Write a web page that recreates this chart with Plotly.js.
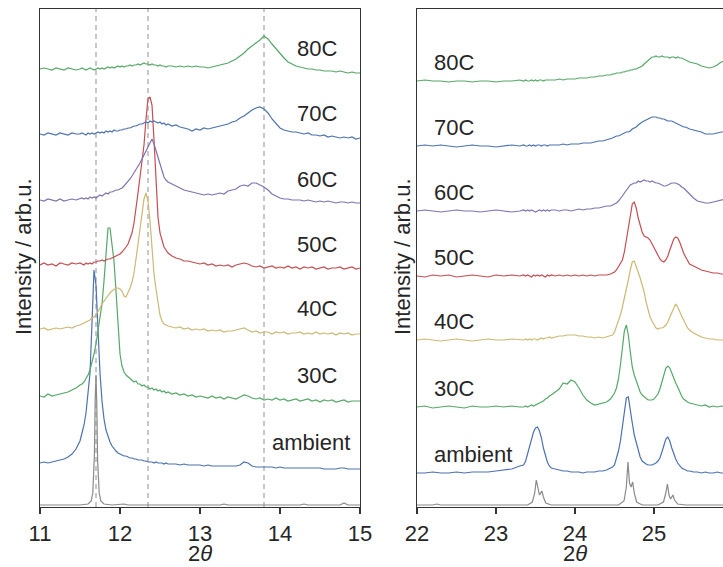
<!DOCTYPE html>
<html>
<head>
<meta charset="utf-8">
<script src="https://cdn.plot.ly/plotly-3.0.1.min.js"></script>
<style>
  html, body { margin: 0; padding: 0; overflow: hidden; background: #fff; }
  #chart { width: 780px; height: 567px; }
</style>
</head>
<body>
<div id="chart"></div>
<script>
// ---------------- DATA ----------------
const sampleNames = ['ambient', '30C', '40C', '50C', '60C', '70C', '80C'];
const seriesColors = ['#4C72B0', '#55A868', '#CCB974', '#C44E52', '#8172B2', '#4C72B0', '#55A868'];
const refColor = '#8a8a8a';

// vertical stacking offsets (arb.u.)
const offsetsLeft = [44, 111, 178, 242, 307, 373, 438];
const offsetsRight = [34, 100, 167, 231, 296, 361, 426];
const refOffset = 2;

// dashed reference positions (left panel)
const dashPositions = [11.70, 12.35, 13.80];

// left panel: 2theta grid
const xLeft = [
  11.00,11.05,11.10,11.15,11.20,11.25,11.30,11.35,11.40,11.45,
  11.500,11.525,11.550,11.575,11.600,11.625,11.650,11.675,11.700,11.725,
  11.750,11.775,11.800,11.825,11.850,11.875,11.900,11.925,11.950,11.975,
  12.000,12.025,12.050,12.075,12.100,12.125,12.150,12.175,12.200,12.225,
  12.250,12.275,12.300,12.325,12.350,12.375,12.400,12.425,12.450,12.475,
  12.500,12.525,12.550,12.575,12.600,
  12.65,12.70,12.75,12.80,12.85,12.90,12.95,13.00,13.05,13.10,
  13.15,13.20,13.25,13.30,13.35,13.40,13.45,13.50,13.55,13.60,
  13.65,13.70,13.75,13.80,13.85,13.90,13.95,14.00,14.05,14.10,
  14.15,14.20,14.25,14.30,14.35,14.40,14.45,14.50,14.55,14.60,
  14.65,14.70,14.75,14.80,14.85,14.90,14.95,15.00
];
const ambientLeft = [
  0,1,0,1,2,3,4,6,9,14,
  22,30,38,50,68,90,140,193,178,130,
  90,62,44,33,26,21,17,14,12,10,
  9,8,7,7,6,5,5,4,4,3,
  3,3,2,2,1,1,1,0,1,0,
  0,0,-1,0,-1,
  -1,-1,-2,-1,-2,-2,-2,-2,-3,-2,
  -3,-3,-3,-3,-3,-3,-3,-2,1,0,
  -3,-4,-4,-4,-4,-4,-5,-4,-5,-5,
  -5,-5,-5,-5,-5,-5,-5,-5,-6,-6,
  -6,-6,-5,-5,-6,-6,-6,-6
];
const c30Left = [
  0,-1,2,0,1,2,3,4,6,8,
  11,12,14,17,21,26,33,42,52,66,
  78,92,115,142,168,168,152,135,105,70,
  42,30,24,21,19,18,16,14,15,12,
  12,10,11,9,9,7,8,6,7,5,
  6,4,5,3,4,
  2,3,1,2,0,1,-1,0,-1,-2,
  0,-2,-1,-3,-1,-2,-3,-1,1,0,
  -2,-3,-2,-4,-3,-4,-2,-4,-3,-5,
  -4,-3,-5,-4,-3,-5,-4,-6,-4,-5,
  -4,-6,-5,-4,-6,-5,-5,-5
];
const c40Left = [
  0,1,-1,0,1,0,1,2,1,3,
  4,5,6,7,8,9,11,12,14,17,
  21,25,28,31,33,36,38,40,41,41,
  40,38,33,32,36,41,47,56,70,86,
  102,118,130,136,128,108,80,55,40,25,
  14,8,5,4,3,
  2,1,2,0,1,-1,0,-1,0,-2,
  -1,-2,-1,-3,-2,-2,-1,0,1,-1,
  -3,-2,-4,-3,-3,-5,-3,-4,-3,-5,
  -4,-4,-3,-5,-4,-5,-3,-5,-4,-5,
  -4,-6,-4,-5,-4,-6,-5,-5
];
const c50Left = [
  0,2,0,1,-1,2,1,0,2,1,
  2,1,0,2,1,2,1,3,3,4,
  4,5,4,5,6,6,7,8,9,10,
  11,13,15,18,21,26,32,42,55,72,
  88,104,120,146,166,168,160,125,78,48,
  32,24,18,15,12,
  9,7,6,4,4,3,2,1,2,0,
  1,-1,0,-1,0,-2,0,1,2,1,
  -1,-2,-1,-3,-2,-1,-3,-2,-3,-1,
  -3,-2,-4,-2,-3,-2,-4,-3,-2,-4,
  -3,-3,-2,-4,-3,-2,-4,-3
];
const c60Left = [
  0,-1,1,0,-1,1,-1,0,1,0,
  1,2,1,2,1,3,2,3,2,4,
  5,4,6,7,6,8,8,9,10,10,
  11,12,14,16,18,21,24,27,30,34,
  37,41,45,49,53,57,61,56,49,42,
  35,29,23,20,18,
  16,14,12,10,9,8,7,6,5,6,
  5,6,7,6,9,10,11,14,15,14,
  17,17,15,13,10,6,4,2,1,1,
  0,0,0,-1,0,-1,-2,-1,-2,-1,
  -2,-3,-2,-2,-3,-2,-3,-3
];
const c70Left = [
  0,-1,1,0,-1,1,0,-1,1,0,
  0,1,0,-1,1,0,1,0,1,2,
  1,2,1,3,2,3,2,4,3,3,
  4,4,5,5,6,6,7,8,8,9,
  10,10,11,12,11,13,12,13,12,11,
  12,10,11,9,10,
  8,9,7,6,5,3,5,4,6,5,
  6,7,8,9,10,12,13,16,18,21,
  24,26,27,25,21,15,10,6,4,3,
  2,2,1,0,1,-1,-1,-2,-1,-3,
  -2,-3,-4,-3,-4,-3,-5,-4
];
const c80Left = [
  0,1,0,-1,1,0,-1,1,0,-1,
  0,1,0,-1,0,1,0,-1,0,1,
  0,1,0,1,2,1,2,1,2,3,
  2,3,2,3,3,4,3,4,4,5,
  4,5,6,5,5,4,5,4,4,3,
  4,3,3,2,3,
  3,2,3,2,3,2,3,2,2,1,
  2,3,4,5,6,8,10,13,16,20,
  23,26,29,33,30,25,20,15,11,7,
  5,3,2,1,0,0,-1,-1,-2,-2,
  -2,-3,-2,-3,-4,-3,-4,-4
];
// simulated reference pattern (grey), left panel
const xRefLeft = [11.00,11.30,11.50,11.60,11.64,11.66,11.68,11.69,11.70,11.71,11.72,11.74,11.76,11.80,11.90,12.05,12.10,12.50,13.00,13.25,13.30,13.35,13.60,14.00,14.25,14.30,14.35,14.75,14.80,14.85,15.00];
const refLeft  = [0,0,0,1,4,12,50,105,130,100,45,12,4,1,0,1,0,0,0,0,1,0,0,0,0,1,0,0,2,0,0];

// right panel: 2theta grid
const xRight = [
  22.0,22.1,22.2,22.3,22.4,22.5,22.6,22.7,22.8,22.9,23.0,23.1,23.2,23.3,
  23.350,23.375,23.400,23.425,23.450,23.475,23.500,23.525,23.550,23.575,23.600,23.625,23.650,23.675,23.700,
  23.75,23.80,23.85,23.90,23.95,24.00,24.05,24.10,24.15,24.20,24.25,24.30,24.35,24.40,24.45,
  24.475,24.500,24.525,24.550,24.575,24.600,24.625,24.650,24.675,24.700,
  24.725,24.750,24.775,24.800,24.825,24.850,24.875,24.900,24.925,24.950,
  24.975,25.000,25.025,25.050,25.075,25.100,25.125,25.150,25.175,25.200,
  25.225,25.250,25.275,25.300,25.325,25.350,25.375,25.400,25.425,25.450,
  25.50,25.55,25.60,25.65,25.70,25.75,25.80,25.85,25.90
];
const ambientRight = [
  0,0,1,0,0,1,0,1,1,1,2,3,4,7,
  8,12,19,27,35,41,45,46,42,35,25,17,11,7,5,
  4,3,2,2,1,1,1,0,1,1,1,2,2,3,5,
  6,8,14,22,32,45,62,75,76,65,
  50,38,30,22,16,12,10,9,8,8,
  8,9,10,12,15,21,28,34,36,32,
  25,19,14,10,7,5,4,3,2,2,
  1,1,0,1,0,0,1,0,0
];
const c30Right = [
  0,1,-1,0,1,0,-1,1,0,0,1,0,1,0,
  0,1,0,1,2,1,2,3,4,5,6,8,9,11,12,
  15,18,24,23,27,25,19,12,7,4,2,3,4,5,8,
  11,14,19,28,42,60,76,82,72,55,
  40,32,26,20,15,12,10,8,7,7,
  7,8,10,13,18,25,33,39,41,39,
  34,28,24,20,15,11,8,6,5,4,
  3,2,1,2,0,1,0,1,0
];
const c40Right = [
  0,1,0,-1,0,1,0,-1,0,1,0,0,1,0,
  0,1,0,1,0,1,1,0,1,2,1,2,2,3,2,
  3,4,4,5,5,5,4,4,3,3,2,3,2,3,4,
  5,8,13,19,25,33,41,50,60,70,
  78,79,74,68,62,55,48,38,29,23,
  19,15,12,11,12,12,13,15,18,23,
  28,33,36,33,28,24,20,16,12,10,
  7,5,3,2,1,1,0,0,0
];
const c50Right = [
  0,-1,1,0,1,-1,0,1,0,-1,1,0,1,0,
  1,0,1,0,-1,1,0,1,0,1,0,-1,1,0,1,
  0,1,0,1,0,1,0,1,0,1,0,1,1,1,2,
  3,4,6,9,12,16,24,36,48,64,
  72,74,68,58,50,44,40,39,38,36,
  32,28,24,20,17,15,14,16,20,26,
  32,37,39,38,34,28,23,19,15,12,
  10,8,6,5,4,3,3,2,2
];
const c60Right = [
  0,1,0,-1,0,1,0,0,-1,0,1,0,-1,0,
  1,0,1,0,1,0,-1,0,1,0,1,0,1,0,1,
  1,0,1,1,0,1,2,1,2,2,3,3,4,5,5,
  6,7,8,10,12,15,18,21,24,26,
  27,28,28,30,29,30,31,30,30,29,
  30,29,28,28,27,26,25,25,26,27,
  28,28,28,27,26,24,23,21,19,16,
  13,10,9,8,8,9,10,11,12
];
const c70Right = [
  0,1,0,1,0,-1,0,1,0,0,-1,0,1,0,
  1,0,0,1,0,1,0,1,1,0,1,1,0,1,1,
  1,1,2,1,2,2,2,3,3,3,4,5,5,6,7,
  8,9,10,10,11,12,13,14,14,15,
  17,18,19,21,23,24,25,26,27,28,
  29,29,29,28,28,27,27,26,25,25,
  25,24,23,22,21,20,19,19,18,17,
  16,15,14,12,12,12,13,14,14
];
const c80Right = [
  0,1,0,0,-1,0,0,-1,0,0,-1,0,0,1,
  0,1,0,0,1,0,1,0,1,1,0,1,1,1,1,
  1,2,1,2,2,2,3,3,3,4,4,5,5,6,6,
  7,7,8,8,8,9,9,10,10,11,
  11,12,12,13,14,15,17,19,21,23,
  24,24,25,24,24,25,24,24,24,23,
  24,24,23,24,23,23,22,21,20,19,
  18,17,15,14,13,14,16,19,20
];
// simulated reference pattern (grey), right panel
const xRefRight = [22.0,22.2,22.25,22.3,23.0,23.40,23.46,23.49,23.51,23.53,23.55,23.58,23.60,23.63,23.70,24.0,24.55,24.62,24.65,24.67,24.69,24.71,24.73,24.75,24.78,24.85,25.05,25.12,25.15,25.17,25.19,25.21,25.24,25.26,25.30,25.40,25.90];
const refRight  = [0,0,1,0,0,0,3,12,25,16,10,14,8,2,0,0,0,4,18,43,22,18,23,12,3,0,0,3,12,21,10,6,10,5,1,0,0];

const xTicksLeft = [11, 12, 13, 14, 15];
const xTicksRight = [22, 23, 24, 25];
const xAxisTitle = '2<i>θ</i>';
const yAxisTitle = 'Intensity / arb.u.';

// ---------------- PLOT ----------------
const W = 780, H = 567;
const FONT = 'Liberation Sans, Arial, Helvetica, sans-serif';
const TXT = '#262626';
const seriesLeft = [ambientLeft, c30Left, c40Left, c50Left, c60Left, c70Left, c80Left];
const seriesRight = [ambientRight, c30Right, c40Right, c50Right, c60Right, c70Right, c80Right];

const traces = [];
function add(x, ys, off, color, xa, ya) {
  traces.push({
    x: x, y: ys.map(v => v + off), type: 'scatter', mode: 'lines',
    line: {color: color, width: 1.2}, xaxis: xa, yaxis: ya,
    hoverinfo: 'skip', showlegend: false
  });
}
add(xRefLeft, refLeft, refOffset, refColor, 'x', 'y');
add(xRefRight, refRight, refOffset, refColor, 'x2', 'y2');
for (let i = 0; i < sampleNames.length; i++) {
  add(xLeft, seriesLeft[i], offsetsLeft[i], seriesColors[i], 'x', 'y');
  add(xRight, seriesRight[i], offsetsRight[i], seriesColors[i], 'x2', 'y2');
}

const annotations = [];
for (let i = 0; i < sampleNames.length; i++) {
  annotations.push({
    x: sampleNames[i] === 'ambient' ? 14.39 : 14.46, y: offsetsLeft[i] + 20,
    xref: 'x', yref: 'y', text: sampleNames[i], showarrow: false,
    xanchor: 'center', yanchor: 'middle', font: {family: FONT, size: 22, color: TXT}
  });
  annotations.push({
    x: 22.19, y: offsetsRight[i] + 18,
    xref: 'x2', yref: 'y2', text: sampleNames[i], showarrow: false,
    xanchor: 'left', yanchor: 'middle', font: {family: FONT, size: 22, color: TXT}
  });
}
// axis titles (bottom of the box kept on the page)
annotations.push({x: 200 / W, y: 0, xref: 'paper', yref: 'paper', text: xAxisTitle, showarrow: false,
  xanchor: 'center', yanchor: 'bottom', borderpad: 0, font: {family: FONT, size: 22, color: TXT}});
annotations.push({x: 575 / W, y: 0, xref: 'paper', yref: 'paper', text: xAxisTitle, showarrow: false,
  xanchor: 'center', yanchor: 'bottom', borderpad: 0, font: {family: FONT, size: 22, color: TXT}});
annotations.push({x: 24 / W, y: 1 - 257 / H, xref: 'paper', yref: 'paper', text: yAxisTitle, showarrow: false,
  textangle: -90, xanchor: 'center', yanchor: 'middle', font: {family: FONT, size: 22, color: TXT}});
annotations.push({x: 403 / W, y: 1 - 257 / H, xref: 'paper', yref: 'paper', text: yAxisTitle, showarrow: false,
  textangle: -90, xanchor: 'center', yanchor: 'middle', font: {family: FONT, size: 22, color: TXT}});

const shapes = dashPositions.map(p => ({
  type: 'line', xref: 'x', yref: 'y domain', x0: p, x1: p, y0: 0, y1: 1,
  line: {color: '#9a9a9a', width: 1.1, dash: '5px,4px'}, layer: 'below'
}));

const axisCommon = {
  showline: true, linecolor: '#333333', linewidth: 1.3, mirror: true,
  showgrid: false, zeroline: false
};
const yDomain = [1 - 507 / H, 1 - 9 / H];
const layout = {
  width: W, height: H,
  margin: {l: 0, r: 0, t: 0, b: 0},
  paper_bgcolor: '#ffffff', plot_bgcolor: '#ffffff',
  font: {family: FONT, color: TXT},
  xaxis: Object.assign({}, axisCommon, {
    domain: [40 / W, 360 / W], range: [11, 15], anchor: 'y',
    tickmode: 'array', tickvals: xTicksLeft, ticks: 'outside', ticklen: 6, tickwidth: 1.2, tickcolor: '#333333',
    tickfont: {family: FONT, size: 22, color: TXT}
  }),
  yaxis: Object.assign({}, axisCommon, {
    domain: yDomain, range: [0, 498], anchor: 'x', ticks: '', showticklabels: false
  }),
  xaxis2: Object.assign({}, axisCommon, {
    domain: [417 / W, 733 / W], range: [22, 26], anchor: 'y2',
    tickmode: 'array', tickvals: xTicksRight, ticks: 'outside', ticklen: 6, tickwidth: 1.2, tickcolor: '#333333',
    tickfont: {family: FONT, size: 22, color: TXT}
  }),
  yaxis2: Object.assign({}, axisCommon, {
    domain: yDomain, range: [0, 498], anchor: 'x2', ticks: '', showticklabels: false
  }),
  annotations: annotations,
  shapes: shapes
};

Plotly.newPlot('chart', traces, layout, {staticPlot: true, displayModeBar: false});
</script>
</body>
</html>
